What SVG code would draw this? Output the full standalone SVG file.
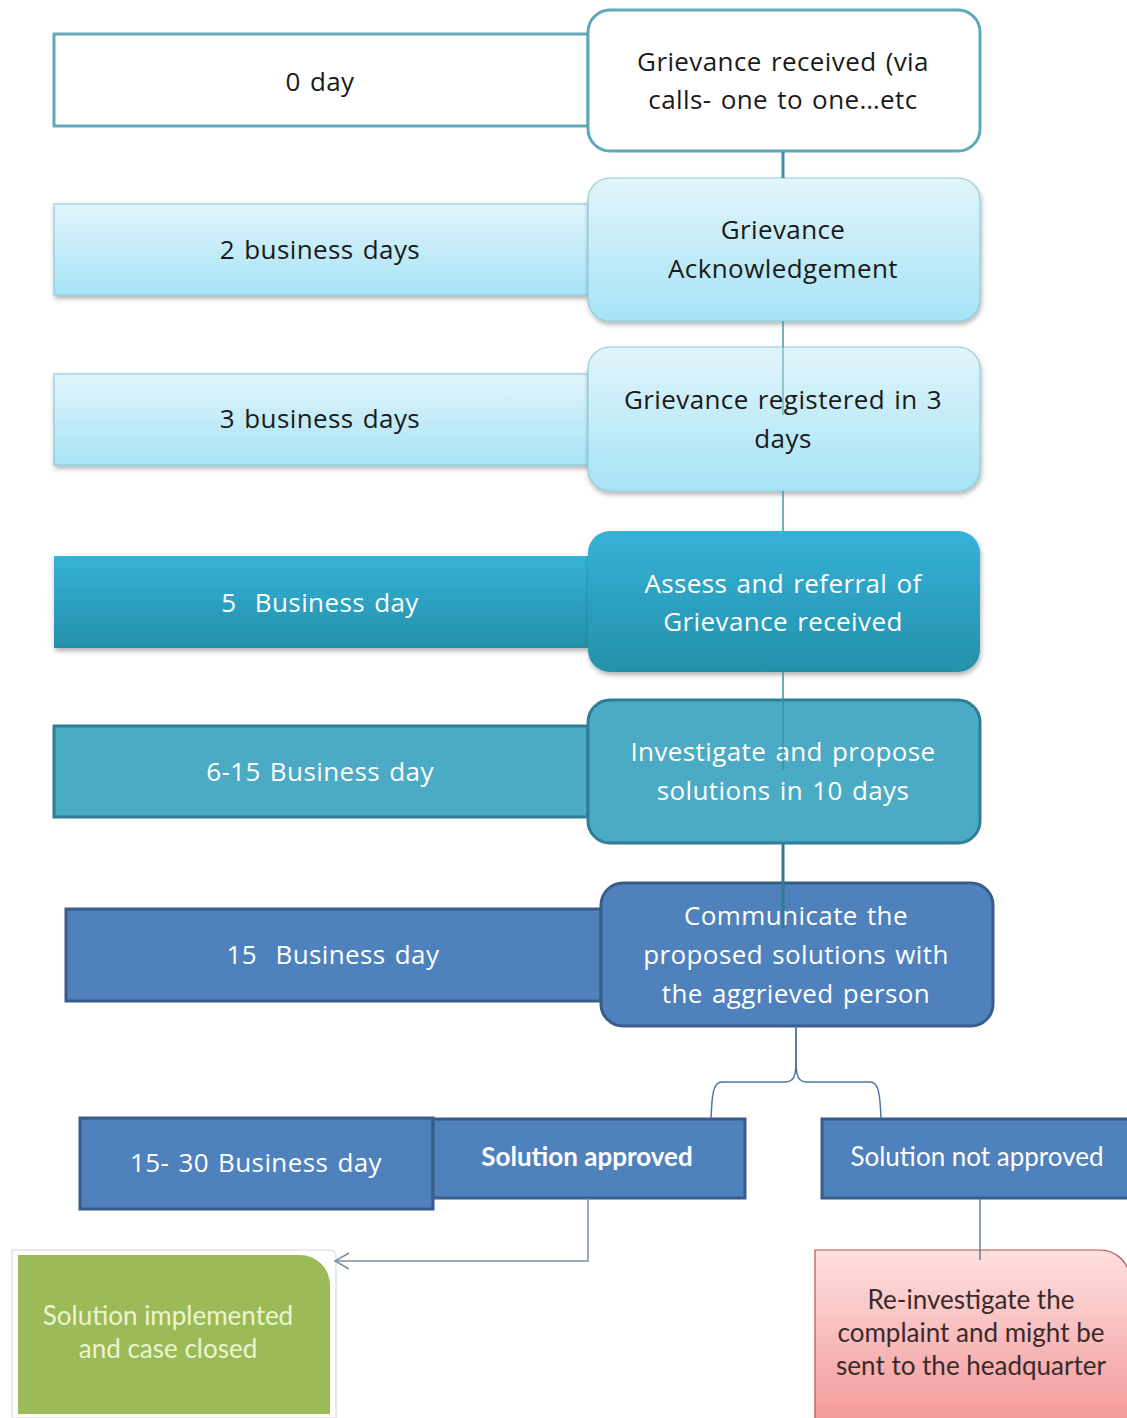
<svg xmlns="http://www.w3.org/2000/svg" width="1127" height="1418" viewBox="0 0 1127 1418">
<defs>
<linearGradient id="gLight" x1="0" y1="0" x2="0" y2="1"><stop offset="0" stop-color="#e2f5fb"/><stop offset="1" stop-color="#a6e3f6"/></linearGradient>
<linearGradient id="gTeal" x1="0" y1="0" x2="0" y2="1"><stop offset="0" stop-color="#36b2d8"/><stop offset="1" stop-color="#2490aa"/></linearGradient>
<linearGradient id="gPink" x1="0" y1="0" x2="0" y2="1"><stop offset="0" stop-color="#ffe0e0"/><stop offset="1" stop-color="#f39a9a"/></linearGradient>
<filter id="sh" x="-10%" y="-10%" width="120%" height="130%"><feDropShadow dx="1" dy="3" stdDeviation="2.5" flood-color="#000" flood-opacity="0.3"/></filter>
<marker id="arr" markerWidth="18" markerHeight="18" refX="16" refY="9" orient="auto" markerUnits="userSpaceOnUse"><path d="M2,1 L16,9 L2,17" fill="none" stroke="#7b8ea6" stroke-width="1.5"/></marker>
</defs>
<style>
.t{font-family:"Open Sans","Liberation Sans",sans-serif;font-size:26px;text-anchor:middle;letter-spacing:0.4px;word-spacing:2px}
.pre{white-space:pre}
.dk{fill:#1a1a1a}
.wh{fill:#ffffff}
.c{font-family:Lato,"Liberation Sans",sans-serif;font-size:26px;text-anchor:middle}
.light{fill:url(#gLight);stroke:#8ccbdc;stroke-width:1.2}
.blue{fill:#4f81bd;stroke:#385d8a;stroke-width:3}
</style>
<rect width="1127" height="1418" fill="#ffffff"/>

<g id="n0day"><rect x="54" y="34" width="534" height="92" fill="#ffffff" stroke="#5ea8b9" stroke-width="3"/><text class="t dk" x="320" y="91">0 day</text></g>
<g id="nReceived"><rect x="588" y="10" width="392" height="141" rx="22" fill="#ffffff" stroke="#5ea8b9" stroke-width="3"/><text class="t dk" x="783" y="71">Grievance received (via</text><text class="t dk" x="783" y="109">calls- one to one…etc</text></g>

<g id="n2days"><rect class="light" x="54" y="204" width="534" height="91" filter="url(#sh)"/><text class="t dk" x="320" y="259">2 business days</text></g>
<g id="nAck"><rect class="light" x="588" y="178" width="392" height="143" rx="22" filter="url(#sh)"/><text class="t dk" x="783" y="239">Grievance</text><text class="t dk" x="783" y="278">Acknowledgement</text></g>

<g id="n3days"><rect class="light" x="54" y="374" width="534" height="91" filter="url(#sh)"/><text class="t dk" x="320" y="428">3 business days</text></g>
<g id="nReg"><rect class="light" x="588" y="347" width="392" height="144" rx="22" filter="url(#sh)"/><text class="t dk" x="783" y="409">Grievance registered in 3</text><text class="t dk" x="783" y="448">days</text></g>

<g id="n5days"><rect x="54" y="556" width="534" height="92" fill="url(#gTeal)" filter="url(#sh)"/><text class="t wh pre" x="320" y="612">5  Business day</text></g>
<g id="nAssess"><rect x="588" y="531" width="392" height="141" rx="22" fill="url(#gTeal)" filter="url(#sh)"/><text class="t wh" x="783" y="593">Assess and referral of</text><text class="t wh" x="783" y="631">Grievance received</text></g>

<g id="n615"><rect x="54" y="726" width="534" height="91" fill="#4baac4" stroke="#2f7e95" stroke-width="3"/><text class="t wh" x="320" y="781">6-15 Business day</text></g>
<g id="nInvest"><rect x="588" y="700" width="392" height="143" rx="22" fill="#4baac4" stroke="#2f7e95" stroke-width="3"/><text class="t wh" x="783" y="761">Investigate and propose</text><text class="t wh" x="783" y="800">solutions in 10 days</text></g>

<g id="n15"><rect class="blue" x="66" y="909" width="535" height="92"/><text class="t wh pre" x="333" y="964">15  Business day</text></g>
<g id="nComm"><rect class="blue" x="601" y="883" width="392" height="143" rx="22"/><text class="t wh" x="796" y="925">Communicate the</text><text class="t wh" x="796" y="964">proposed solutions with</text><text class="t wh" x="796" y="1003">the aggrieved person</text></g>

<g id="n1530"><rect class="blue" x="80" y="1118" width="353" height="91"/><text class="t wh" x="256" y="1172">15- 30 Business day</text></g>
<g id="nApproved"><rect class="blue" x="433" y="1119" width="312" height="79"/><text class="c wh" x="587" y="1166" font-weight="bold" font-size="25">Solution approved</text></g>
<g id="nNotApproved"><rect class="blue" x="822" y="1119" width="310" height="79"/><text class="c wh" x="977" y="1166">Solution not approved</text></g>

<g id="nClosed"><path d="M12,1250 H330 a6,6 0 0 1 6,6 V1418 H12 Z" fill="#ffffff" stroke="#e2e2e2" stroke-width="1.5"/><path d="M18,1255 H300 a30,30 0 0 1 30,30 V1414 H18 Z" fill="#9bbb59"/><text class="c" fill="#eef4cf" x="168" y="1325" font-size="27">Solution implemented</text><text class="c" fill="#eef4cf" x="168" y="1358" font-size="27">and case closed</text></g>
<g id="nReinv"><path d="M815,1250 H1100 a30,30 0 0 1 30,30 V1420 H815 Z" fill="url(#gPink)" stroke="#c0504d" stroke-width="1.2"/><text class="c" fill="#3a2a2a" x="971" y="1309">Re-investigate the</text><text class="c" fill="#3a2a2a" x="971" y="1342">complaint and might be</text><text class="c" fill="#3a2a2a" x="971" y="1375">sent to the headquarter</text></g>

<g id="connectors" fill="none">
<line x1="783" y1="152" x2="783" y2="178" stroke="#3f8fa3" stroke-width="3"/>
<line x1="783" y1="321" x2="783" y2="347" stroke="#4a95aa" stroke-width="1.5"/>
<line x1="783" y1="347" x2="783" y2="415" stroke="#4a95aa" stroke-width="1.2" opacity="0.8"/>
<line x1="783" y1="491" x2="783" y2="531" stroke="#4a95aa" stroke-width="1.5"/>
<line x1="783" y1="672" x2="783" y2="700" stroke="#3f8fa3" stroke-width="1.5"/>
<line x1="783" y1="700" x2="783" y2="770" stroke="#3a8ca2" stroke-width="1.5" opacity="0.8"/>
<line x1="783" y1="843" x2="783" y2="883" stroke="#2e7d8f" stroke-width="3"/>
<line x1="783" y1="883" x2="783" y2="928" stroke="#2e7d8f" stroke-width="3"/>
<path d="M796,1026 C796,1070 798,1082 786,1082 H722 C713,1082 712,1095 711,1118" stroke="#4f76a6" stroke-width="1.5"/>
<path d="M796,1026 C796,1070 794,1082 806,1082 H870 C879,1082 880,1095 881,1118" stroke="#4f76a6" stroke-width="1.5"/>
<path d="M588,1198 V1261 H335" stroke="#7b8ea6" stroke-width="1.5" marker-end="url(#arr)"/>
<line x1="980" y1="1198" x2="980" y2="1260" stroke="#4f6a8e" stroke-width="1.3"/>
</g>
</svg>
